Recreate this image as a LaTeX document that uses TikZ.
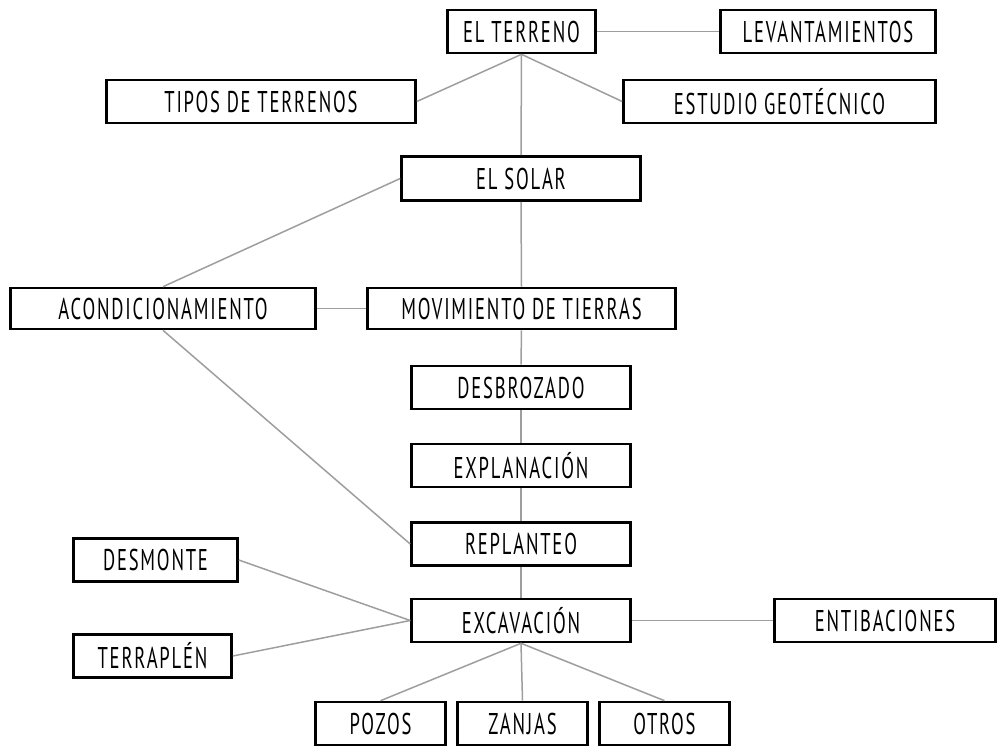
\documentclass[tikz,border=0pt]{standalone}
\usepackage{fontspec}
\setmainfont{PT Sans}[FakeStretch=0.62,LetterSpace=6]
\begin{document}
\begin{tikzpicture}[x=1pt,y=-1pt,
  box/.style={draw=black, line width=2.6pt, minimum width=#1, minimum height=43pt,
    inner sep=0pt, font=\fontsize{30}{30}\selectfont},
  link/.style={draw=black!38, line width=1.5pt}]
\useasboundingbox (0,0) rectangle (999,745);
\node[box=148pt] (terreno) at (521.5,31.5) {EL TERRENO};
\node[box=215pt] (levant) at (828,31.5) {LEVANTAMIENTOS};
\node[box=309pt] (tipos) at (261,101.5) {TIPOS DE TERRENOS};
\node[box=312pt] (estudio) at (779.5,101.5) {ESTUDIO GEOTÉCNICO};
\node[box=239pt, minimum height=44pt] (solar) at (521,178.5) {EL SOLAR};
\node[box=305pt, minimum height=41pt] (acond) at (163,308.5) {ACONDICIONAMIENTO};
\node[box=308pt, minimum height=41pt] (mov) at (521.5,308.5) {MOVIMIENTO DE TIERRAS};
\node[box=219pt] (desbr) at (521,387.5) {DESBROZADO};
\node[box=219pt] (explan) at (521,465.5) {EXPLANACIÓN};
\node[box=219pt] (replan) at (521,544) {REPLANTEO};
\node[box=164pt] (desmonte) at (155.5,560) {DESMONTE};
\node[box=219pt] (excav) at (521,620.5) {EXCAVACIÓN};
\node[box=221pt] (entib) at (885,620.5) {ENTIBACIONES};
\node[box=158pt] (terraplen) at (152.5,656) {TERRAPLÉN};
\node[box=130pt] (pozos) at (380.5,723.5) {POZOS};
\node[box=130pt] (zanjas) at (522.5,723.5) {ZANJAS};
\node[box=130pt] (otros) at (664.5,723.5) {OTROS};
\draw[link] (terreno) -- (levant);
\draw[link] (terreno.south) -- (tipos.east);
\draw[link] (terreno.south) -- (estudio.west);
\draw[link] (terreno.south) -- (solar.north);
\draw[link] (solar.west) -- (acond.north);
\draw[link] (solar.south) -- (mov.north);
\draw[link] (acond) -- (mov);
\draw[link] (mov.south) -- (desbr.north);
\draw[link] (desbr) -- (explan);
\draw[link] (explan) -- (replan);
\draw[link] (acond.south) -- (replan.west);
\draw[link] (replan) -- (excav);
\draw[link] (desmonte.east) -- (excav.west);
\draw[link] (terraplen.east) -- (excav.west);
\draw[link] (excav) -- (entib);
\draw[link] (excav.south) -- (pozos.north);
\draw[link] (excav.south) -- (zanjas.north);
\draw[link] (excav.south) -- (otros.north);
\end{tikzpicture}
\end{document}
